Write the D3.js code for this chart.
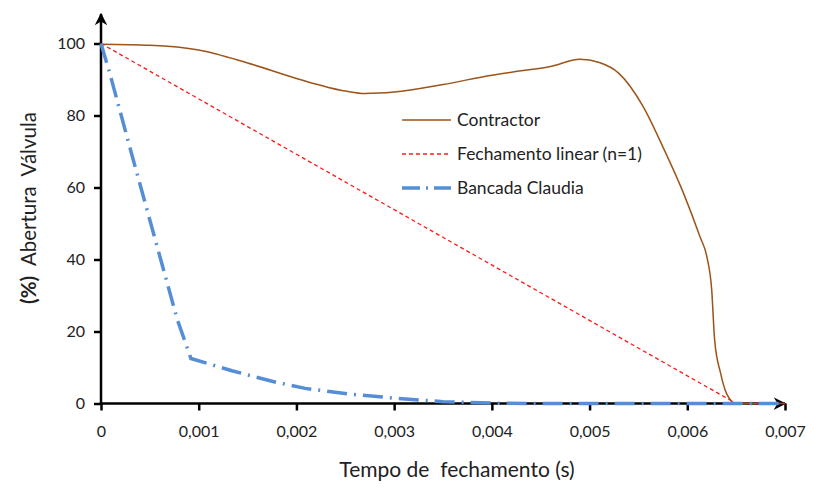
<!DOCTYPE html>
<html>
<head>
<meta charset="utf-8">
<script src="https://cdn.jsdelivr.net/npm/d3@7"></script>
<style>
  body { margin: 0; background: #fff; }
  text { font-family: Lato, "Open Sans", sans-serif; fill: #222; }
</style>
</head>
<body>
<div id="chart"></div>
<script>

// Data
const xTicks = [0, 0.001, 0.002, 0.003, 0.004, 0.005, 0.006, 0.007];
const yTicks = [0, 20, 40, 60, 80, 100];

const contractorT = [0, 0.0005, 0.001, 0.0015, 0.002, 0.0025, 0.0027, 0.003, 0.0035, 0.004, 0.0043, 0.0046, 0.0049, 0.0051, 0.0053, 0.00555, 0.00575, 0.00596, 0.00613, 0.0062, 0.00625, 0.00628, 0.00634, 0.0064, 0.0065, 0.007];
const contractorV = [99.8, 99.5, 98.2, 94.6, 90.3, 86.8, 86.1, 86.5, 88.6, 91.2, 92.4, 93.6, 95.6, 94.7, 91.7, 82.4, 71.3, 58.5, 46.3, 40.8, 31.5, 17.6, 8.5, 2.9, 0, 0];

const linearT = [0, 0.0065, 0.007];
const linearV = [100, 0, 0];

const bancadaT = [0, 0.00009, 0.00032, 0.00055, 0.00078, 0.00092, 0.00134, 0.00176, 0.00209, 0.00255, 0.003, 0.0035, 0.004, 0.0045, 0.007];
const bancadaV = [100, 91.7, 68.7, 46, 23.4, 12.5, 9.1, 6.1, 4.2, 2.6, 1.5, 0.5, 0.1, 0, 0];

const series = [
  { name: 'Contractor', t: contractorT, v: contractorV, color: '#9c5419', width: 1.5, dash: null, curve: d3.curveMonotoneX },
  { name: 'Fechamento linear (n=1)', t: linearT, v: linearV, color: '#ff1a1a', width: 1.3, dash: '4,3', curve: d3.curveLinear },
  { name: 'Bancada Claudia', t: bancadaT, v: bancadaV, color: '#558ed5', width: 3.5, dash: '20,7,2,7', curve: d3.curveLinear }
];

const W = 819, H = 490;
const x = d3.scaleLinear().domain([0, 0.007]).range([101, 785]);
const y = d3.scaleLinear().domain([0, 100]).range([403.5, 43.5]);

const svg = d3.select('#chart').append('svg')
  .attr('width', W)
  .attr('height', H);

// Axes
const fmt = d => d === 0 ? '0' : d3.format('.3f')(d).replace('.', ',');

const xAxis = svg.append('g')
  .attr('transform', `translate(0,${y(0)})`)
  .call(d3.axisBottom(x).tickValues(xTicks).tickSize(7).tickPadding(15).tickFormat(fmt));

const yAxis = svg.append('g')
  .attr('transform', `translate(${x(0)},0)`)
  .call(d3.axisLeft(y).tickValues(yTicks).tickSize(7).tickPadding(9));

[xAxis, yAxis].forEach(ax => {
  ax.select('.domain').remove();
  ax.selectAll('.tick line').attr('stroke', '#000').attr('stroke-width', 2.5);
  ax.selectAll('.tick text')
    .style('font-family', 'Lato, sans-serif')
    .style('font-size', '16px')
    .attr('fill', '#222');
});

// axis lines with arrows
svg.append('defs').append('marker')
  .attr('id', 'arrow')
  .attr('viewBox', '0 0 10 10')
  .attr('refX', 9)
  .attr('refY', 5)
  .attr('markerWidth', 5)
  .attr('markerHeight', 5)
  .attr('orient', 'auto')
  .attr('markerUnits', 'strokeWidth')
  .append('path')
  .attr('d', 'M0,0 L10,5 L0,10 L3,5 Z')
  .attr('fill', '#000');

svg.append('line')
  .attr('x1', x(0)).attr('y1', y(0))
  .attr('x2', x(0)).attr('y2', 14)
  .attr('stroke', '#000').attr('stroke-width', 2.5)
  .attr('marker-end', 'url(#arrow)');

svg.append('line')
  .attr('x1', x(0)).attr('y1', y(0))
  .attr('x2', x(0.007)).attr('y2', y(0))
  .attr('stroke', '#000').attr('stroke-width', 2.5)
  .attr('marker-end', 'url(#arrow)');

// Series
series.forEach(s => {
  const pts = s.t.map((t, i) => [t, s.v[i]]);
  const line = d3.line()
    .x(d => x(d[0]))
    .y(d => y(d[1]))
    .curve(s.curve);

  svg.append('path')
    .datum(pts)
    .attr('d', line)
    .attr('fill', 'none')
    .attr('stroke', s.color)
    .attr('stroke-width', s.width)
    .attr('stroke-dasharray', s.dash);
});

// Legend
const legend = svg.append('g').attr('transform', 'translate(402,120)');

series.forEach((s, i) => {
  const row = legend.append('g').attr('transform', `translate(0,${i * 34})`);

  row.append('line')
    .attr('x1', 0).attr('x2', 49)
    .attr('y1', 0).attr('y2', 0)
    .attr('stroke', s.color)
    .attr('stroke-width', s.width)
    .attr('stroke-dasharray', s.dash ? (i === 2 ? '18,6,2,6' : s.dash) : null);

  row.append('text')
    .attr('x', 55)
    .attr('y', 0)
    .attr('dy', '0.35em')
    .style('font-size', '17.5px')
    .text(s.name);
});

// Axis titles
svg.append('text')
  .attr('x', 457)
  .attr('y', 477)
  .attr('text-anchor', 'middle')
  .style('font-size', '21px')
  .style('white-space', 'pre')
  .text('Tempo de  fechamento (s)');

const yTitle = svg.append('text')
  .attr('transform', 'translate(36,208) rotate(-90)')
  .attr('text-anchor', 'middle')
  .style('font-size', '20.5px')
  .style('white-space', 'pre');

yTitle.append('tspan').style('font-weight', 'bold').text('(%)');
yTitle.append('tspan').text('  Abertura  Válvula');

</script>
</body>
</html>
